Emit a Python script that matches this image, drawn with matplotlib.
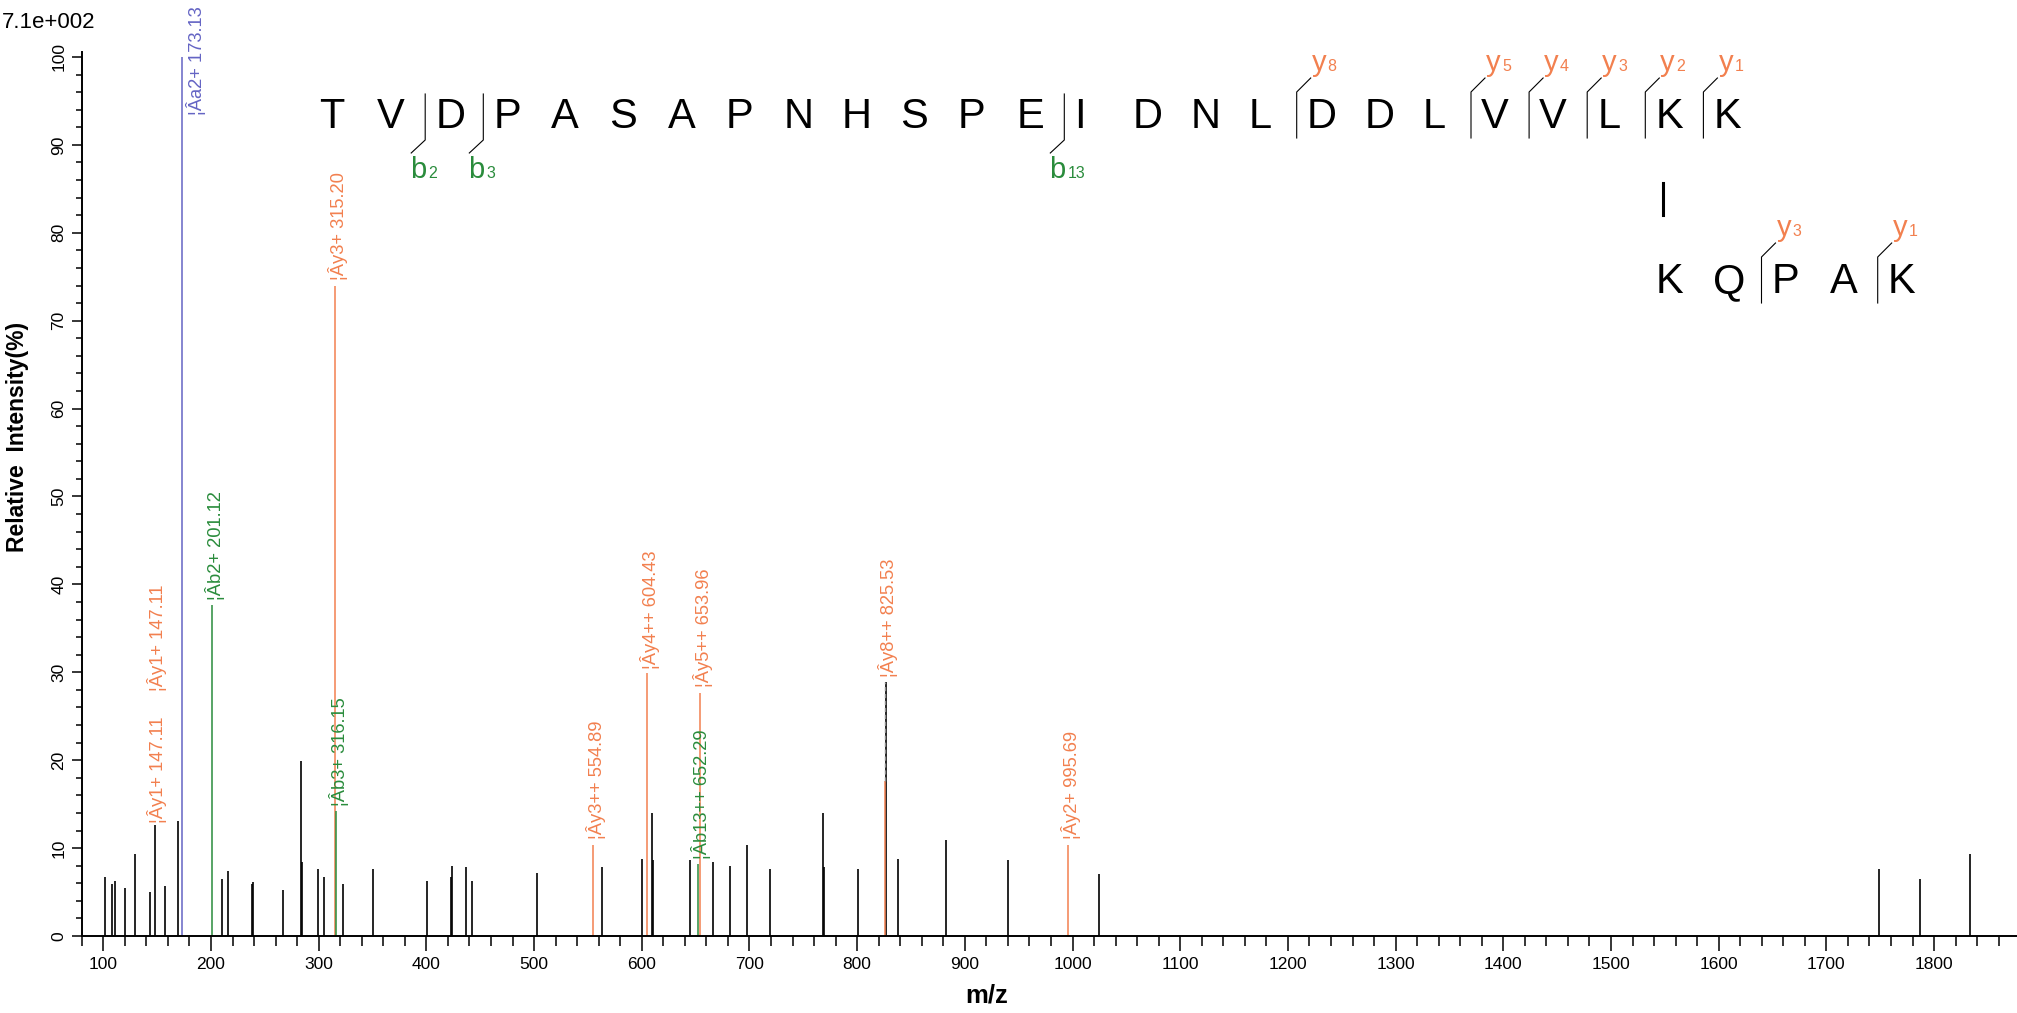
import matplotlib
matplotlib.use('Agg')
import matplotlib.pyplot as plt
from matplotlib.lines import Line2D
from matplotlib.ticker import MultipleLocator

plt.rcParams['font.family'] = ['Liberation Sans', 'DejaVu Sans']

# unassigned peaks (drawn black)
peak_mz = [101.5, 107.7, 110.8, 120.1, 129.4, 143.3, 148.0, 157.3, 169.6,
           209.9, 215.4, 237.7, 239.0, 266.5, 283.5, 284.8, 299.0, 305.2, 322.2,
           350.0, 400.8, 422.5, 424.0, 436.4, 442.6, 503.0,
           562.8, 599.9, 609.5, 610.7, 644.8, 666.4, 681.9, 697.4, 719.0,
           768.6, 769.5, 800.4, 826.7, 837.6, 882.5, 939.7, 1024.5,
           1748.5, 1787.2, 1833.0]
peak_int = [6.7, 5.9, 6.3, 5.5, 9.3, 5.0, 12.6, 5.7, 13.1,
            6.5, 7.4, 5.9, 6.1, 5.2, 19.9, 8.4, 7.6, 6.7, 5.9,
            7.6, 6.3, 6.7, 8.0, 7.8, 6.3, 7.2,
            7.8, 8.8, 14.0, 8.6, 8.6, 8.4, 8.0, 10.3, 7.6,
            14.0, 7.8, 7.6, 28.9, 8.8, 10.9, 8.6, 7.0,
            7.6, 6.5, 9.3]

# assigned fragment ions
ion_mz = [173.13, 201.12, 315.20, 316.15, 554.89, 604.43, 652.29, 653.96, 825.53, 995.69]
ion_int = [100.0, 37.7, 74.0, 14.2, 10.4, 29.9, 8.2, 27.7, 17.6, 10.4]
ion_kind = ['a', 'b', 'y', 'b', 'y', 'y', 'b', 'y', 'y', 'y']
ion_text = ['¦Âa2+ 173.13', '¦Âb2+ 201.12', '¦Ây3+ 315.20', '¦Âb3+ 316.15',
            '¦Ây3++ 554.89', '¦Ây4++ 604.43', '¦Âb13++ 652.29', '¦Ây5++ 653.96',
            '¦Ây8++ 825.53', '¦Ây2+ 995.69']
ion_label_at = [93.4, 38.2, 74.6, 14.8, 11.0, 30.4, 8.8, 28.3, 29.5, 11.0]

# extra labels with no stick of their own
extra_mz = [147.11, 147.11]
extra_text = ['¦Ây1+ 147.11', '¦Ây1+ 147.11']
extra_at = [12.9, 27.9]

seq_main = 'TVDPASAPNHSPEIDNLDDLVVLKK'
seq_link = 'KQPAK'
b_main = [2, 3, 13]
y_main = [8, 5, 4, 3, 2, 1]
y_link = [3, 1]

colors = {'a': '#6464C4', 'b': '#2A8C3C', 'y': '#F2804F'}

W, H = 2017, 1013


def fx(x):
    return x / W


def fy(y):
    return 1 - y / H


fig = plt.figure(figsize=(W / 100, H / 100), dpi=100)
ax = fig.add_axes([81.8 / W, 1 - 936 / H, 1 - 81.8 / W, (936 - 51.7) / H])

ax.vlines(peak_mz, 0, peak_int, colors='black', lw=1.2)
for mz, h, kind, txt, at in zip(ion_mz, ion_int, ion_kind, ion_text, ion_label_at):
    ax.vlines(mz, 0, h, colors=colors[kind], lw=1.1)
    dx = 13 if kind == 'a' else 2.8
    ax.text(mz + dx, at, txt, rotation=90, ha='center', va='bottom',
            color=colors[kind], fontsize=13.2)
# shared stick at 825.53
ax.vlines(825.53, 17.6, 28.9, colors='#8c8c8c', linestyles=(0, (3, 2)), lw=1)
for mz, txt, at in zip(extra_mz, extra_text, extra_at):
    ax.text(mz + 2.8, at, txt, rotation=90, ha='center', va='bottom',
            color=colors['y'], fontsize=13.2)

ax.set_xlim(80, 1877)
ax.set_ylim(0, 100.6)
for s in ['top', 'right']:
    ax.spines[s].set_visible(False)
for s in ['left', 'bottom']:
    ax.spines[s].set_linewidth(1.4)
ax.xaxis.set_major_locator(MultipleLocator(100))
ax.xaxis.set_minor_locator(MultipleLocator(20))
ax.yaxis.set_major_locator(MultipleLocator(10))
ax.yaxis.set_minor_locator(MultipleLocator(2))
ax.tick_params(axis='x', which='major', length=10.8, width=1.1, pad=4, labelsize=12.5)
ax.tick_params(axis='x', which='minor', length=7.2, width=1.1)
ax.tick_params(axis='y', which='major', length=7.2, width=1.1, pad=4, labelsize=12.5,
               labelrotation=90)
ax.tick_params(axis='y', which='minor', length=4.3, width=1.1)
for lbl in ax.get_yticklabels():
    lbl.set_va('center')

fig.text(fx(18), fy(437), 'Relative  Intensity(%)', rotation=90, ha='center',
         va='center', fontsize=16.5, fontweight='bold')
fig.text(fx(987), fy(995), 'm/z', ha='center', va='center', fontsize=18.5,
         fontweight='bold')
fig.text(fx(2), fy(28), '7.1e+002', ha='left', va='baseline', fontsize=16)

# peptide sequence with fragment brackets
step = 58.1
main_left = 319
main_base = 128
for i, ch in enumerate(seq_main):
    fig.text(fx(main_left + step * i), fy(main_base), ch, fontsize=30,
             ha='left', va='baseline')
for n in b_main:
    x = main_left + step * n - 10
    fig.add_artist(Line2D([fx(x), fx(x), fx(x - 14)], [fy(94), fy(140), fy(153)],
                          color='black', lw=0.8))
    fig.text(fx(x - 15), fy(178), 'b', color=colors['b'], fontsize=21, va='baseline')
    fig.text(fx(x + 3), fy(178), str(n), color=colors['b'], fontsize=11.5, va='baseline')


def y_brackets(left, base, ks, nres):
    for k in ks:
        x = left + step * (nres - k) - 10
        fig.add_artist(Line2D([fx(x), fx(x), fx(x + 14)],
                              [fy(base + 10), fy(base - 36), fy(base - 50)],
                              color='black', lw=0.8))
        fig.text(fx(x + 15), fy(base - 57), 'y', color=colors['y'], fontsize=21,
                 va='baseline')
        fig.text(fx(x + 31), fy(base - 57), str(k), color=colors['y'], fontsize=11.5,
                 va='baseline')


y_brackets(main_left, main_base, y_main, len(seq_main))

link_left = main_left + step * 23
link_base = 293
for j, ch in enumerate(seq_link):
    fig.text(fx(link_left + step * j), fy(link_base), ch, fontsize=30,
             ha='left', va='baseline')
fig.add_artist(Line2D([fx(link_left + 7.5)] * 2, [fy(183), fy(215)],
                      color='black', lw=2.2))
y_brackets(link_left, link_base, y_link, len(seq_link))

fig.savefig('out.png', dpi=100)
